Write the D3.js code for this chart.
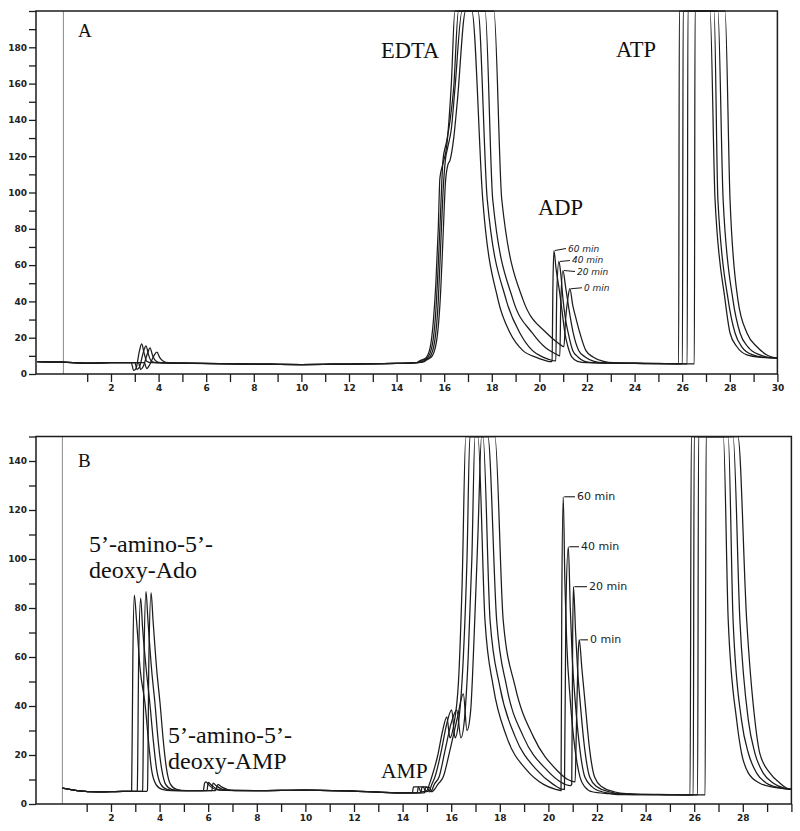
<!DOCTYPE html>
<html><head><meta charset="utf-8">
<script src="https://cdn.jsdelivr.net/npm/d3@7"></script>
<style>body{margin:0;background:#fff} svg{display:block}</style>
</head><body><svg id="c" width="800" height="831"></svg>
<script>
// ---------------- DATA ----------------
const runLabels = ["60 min", "40 min", "20 min", "0 min"];

const xTickMinutes = [1,2,3,4,5,6,7,8,9,10,11,12,13,14,15,16,17,18,19,20,21,22,23,24,25,26,27,28,29,30];
const xTickLabelsA = [2,4,6,8,10,12,14,16,18,20,22,24,26,28,30];
const xTickLabelsB = [2,4,6,8,10,12,14,16,18,20,22,24,26,28];
const yTicksA = [0,10,20,30,40,50,60,70,80,90,100,110,120,130,140,150,160,170,180,190,200];
const yTickLabelsA = [0,20,40,60,80,100,120,140,160,180];
const yTicksB = [0,10,20,30,40,50,60,70,80,90,100,110,120,130,140,150];
const yTickLabelsB = [0,20,40,60,80,100,120,140];

// Panel A: [retention time (min), absorbance units]
const panelA_60 = [[-1.1,6.8],[0,6.5],[1,6.0],[2,6.2],[2.85,6.3],[2.95,2],[3.05,3],[3.2,13],[3.29,16.6],[3.4,11],[3.5,7],[3.7,6.2],
 [5,6],[8,5.5],[10,5.2],[12,5.5],[14,5.8],[14.8,6.2],[15.0,7.5],[15.2,8.5],
 [15.4,14],[15.55,30],[15.65,50],[15.75,80],[15.82,108],[15.95,116],[16.1,125],[16.3,160],[16.45,200],
 [17.16,200],[17.62,96],[18.26,41],[18.77,22.6],[19.3,13],[19.9,9],[20.3,7.2],[20.5,6.8],
 [20.53,7],[20.57,50],[20.61,68],[20.7,58],[20.85,45],[20.95,35],[21.07,22.6],[21.2,15],[21.36,9.4],[21.6,7],[22,6.2],
 [23,6],[24,5.8],[25,5.7],[25.85,5.6],[25.88,200],[27.17,200],[27.38,96],[27.8,41],[28.01,22.6],[28.3,15],[28.72,10.5],[29.3,9.2],[30,8.8]];
const panelA_40 = [[-1.1,6.8],[0,6.5],[1,6.0],[2,6.2],[3.0,6.3],[3.1,2.5],[3.2,4],[3.38,13],[3.47,15.5],[3.58,10.5],[3.7,7],[3.9,6.2],
 [5,6],[8,5.5],[10,5.2],[12,5.5],[14,5.8],[14.9,6.3],[15.1,7.6],[15.3,9],
 [15.5,16],[15.65,35],[15.75,60],[15.85,90],[15.95,118],[16.1,128],[16.25,140],[16.4,158],[16.6,200],
 [17.42,200],[17.81,96],[18.6,41],[19.18,22.6],[19.7,13],[20.2,9],[20.6,7.3],[20.69,7.2],
 [20.73,45],[20.82,62],[20.9,55],[21.0,40],[21.1,30],[21.21,22.6],[21.4,13],[21.62,9.4],[21.9,7],[22.3,6.2],
 [23,6],[24,5.8],[25,5.7],[26.01,5.6],[26.04,200],[27.34,200],[27.5,96],[27.93,41],[28.22,22.6],[28.5,15],[28.97,10.5],[29.5,9.1],[30,8.8]];
const panelA_20 = [[-1.1,6.8],[0,6.5],[1,6.0],[2,6.2],[3.15,6.3],[3.25,2.5],[3.35,4],[3.55,12],[3.64,14.4],[3.75,10],[3.9,7],[4.1,6.2],
 [5,6],[8,5.5],[10,5.2],[12,5.5],[14,5.8],[15.0,6.4],[15.2,7.7],[15.4,9.5],
 [15.6,18],[15.75,40],[15.85,70],[15.95,100],[16.05,118],[16.15,125],[16.3,135],[16.45,157],[16.75,200],
 [17.72,200],[18.04,96],[18.89,41],[19.7,22.6],[20.3,14],[20.7,11],[20.86,10],
 [20.9,40],[20.99,57],[21.1,48],[21.25,35],[21.42,22.6],[21.65,13],[21.92,9.4],[22.3,7],[22.7,6.2],
 [23.5,6],[24.5,5.8],[25.5,5.7],[26.21,5.6],[26.24,200],[27.5,200],[27.72,96],[28.13,41],[28.43,22.6],[28.76,15],[29.27,10.5],[29.7,9],[30,8.8]];
const panelA_0 = [[-1.1,6.8],[0,6.5],[1,6.0],[2,6.2],[3.4,6.3],[3.5,3],[3.6,4.5],[3.8,10],[3.93,12],[4.05,9],[4.2,7],[4.4,6.2],
 [5,6],[8,5.5],[10,5.2],[12,5.5],[14,5.8],[15.1,6.5],[15.3,8],[15.5,10],
 [15.7,20],[15.85,45],[15.95,75],[16.05,105],[16.15,115],[16.25,118],[16.4,130],[16.55,150],[16.9,200],
 [18.09,200],[18.42,96],[19.31,41],[20.3,22.6],[20.8,17],[21.03,15],
 [21.1,30],[21.2,42],[21.28,47],[21.4,38],[21.55,30],[21.7,22.6],[21.95,13],[22.25,9.4],[22.7,7],[23.1,6.2],
 [24,6],[25,5.8],[26.51,5.6],[26.54,200],[27.8,200],[28.01,96],[28.34,41],[28.72,22.6],[29.14,15],[29.56,10.5],[30,8.8]];

// Panel B
const panelB_60 = [[0,6.5],[0.6,5.5],[1.5,5.0],[2.5,5.2],[2.8,5.2],
 [2.85,5.5],[2.9,60],[2.96,85.3],[3.05,75],[3.2,55],[3.4,41],[3.55,25],[3.67,14],[3.85,8],[4.1,6],[4.5,5.5],
 [5,5.5],[5.8,5.5],[5.85,8.5],[5.9,9],[6.05,7.5],[6.3,6],[6.6,5.6],
 [8,5.5],[10,5.7],[12,5.3],[14,4.5],[14.4,4.5],[14.45,7],[14.65,7],[14.75,5],[15.0,5.5],
 [15.1,8],[15.2,11],[15.45,20],[15.65,30],[15.82,35.6],[15.95,27],[16.1,32],[16.3,50],[16.45,90],[16.6,150],
 [17.1,150],[17.39,75],[17.73,48],[18.28,27.5],[19.1,13.9],[19.8,8],[20.3,6],[20.52,5.5],
 [20.55,80],[20.61,125.4],[20.68,90],[20.75,67],[20.9,42.4],[21.1,22],[21.3,11],[21.5,7],[21.8,5],[22.5,4.2],
 [23,3.8],[24,3.9],[25,3.7],[25.83,3.7],[25.88,150],[27.2,150],[27.4,75],[27.75,34],[27.95,20.7],[28.23,12.6],[28.7,8.5],[29.3,6.8],[30,6]];
const panelB_40 = [[0,6.5],[0.6,5.5],[1.5,5.0],[2.5,5.2],[3.05,5.2],
 [3.08,5.5],[3.14,60],[3.22,84],[3.3,72],[3.45,55],[3.6,41],[3.75,25],[3.88,14],[4.05,8],[4.3,6],[4.7,5.5],
 [5.95,5.5],[6.0,8.8],[6.15,7.5],[6.4,6],[6.7,5.6],
 [8,5.5],[10,5.7],[12,5.3],[14,4.5],[14.6,4.5],[14.65,7],[14.85,7],[14.95,5],[15.1,5.5],
 [15.2,8],[15.33,11],[15.6,22],[15.8,32],[16.02,38.4],[16.16,27],[16.3,33],[16.5,60],[16.65,100],[16.77,150],
 [17.31,150],[17.6,75],[18.0,48],[18.63,27.5],[19.52,13.9],[20.2,8],[20.6,6],[20.66,6],
 [20.72,80],[20.82,105],[20.9,80],[20.98,60],[21.1,42.4],[21.3,22],[21.5,11],[21.8,7],[22.2,5],[22.8,4.2],
 [23.5,3.8],[24.5,3.9],[25.96,3.7],[26.0,150],[27.4,150],[27.6,75],[27.95,34],[28.23,20.7],[28.57,12.6],[28.98,8.5],[29.5,6.7],[30,6]];
const panelB_20 = [[0,6.5],[0.6,5.5],[1.5,5.0],[2.5,5.2],[3.27,5.2],
 [3.3,5.5],[3.36,60],[3.44,86.7],[3.52,75],[3.67,55],[3.81,41],[3.95,25],[4.09,14],[4.25,8],[4.5,6],[4.9,5.5],
 [6.15,5.5],[6.2,8.5],[6.35,7.3],[6.6,6],[6.9,5.6],
 [8,5.5],[10,5.7],[12,5.3],[14,4.5],[14.75,4.5],[14.8,7],[15.0,7],[15.1,5],[15.2,5.6],
 [15.3,8],[15.5,11],[15.75,22],[16.0,33],[16.23,38.4],[16.4,27],[16.55,35],[16.7,60],[16.85,100],[16.98,150],
 [17.51,150],[17.87,75],[18.28,48],[18.97,27.5],[19.93,13.9],[20.5,9],[20.9,7.5],
 [20.96,8],[21.0,70],[21.03,88.7],[21.12,70],[21.2,55],[21.3,42.4],[21.5,22],[21.7,11],[22.0,7],[22.5,5],[23,4.2],
 [24,3.8],[25,3.8],[26.14,3.7],[26.18,150],[27.6,150],[27.88,75],[28.23,34],[28.5,20.7],[28.84,12.6],[29.26,8.5],[29.7,6.5],[30,6]];
const panelB_0 = [[0,6.5],[0.6,5.5],[1.5,5.0],[2.5,5.2],[3.47,5.2],
 [3.5,5.5],[3.56,60],[3.65,86.2],[3.73,75],[3.88,55],[4.02,41],[4.16,25],[4.29,14],[4.45,8],[4.7,6],[5.1,5.5],
 [6.3,5.5],[6.4,8],[6.55,7],[6.8,5.9],[7.1,5.5],
 [8,5.5],[10,5.7],[12,5.3],[14,4.5],[14.9,4.5],[14.95,6.8],[15.1,6.8],[15.2,5],[15.3,5.8],
 [15.45,8],[15.67,11],[15.95,22],[16.25,35],[16.5,45],[16.65,30],[16.8,38],[16.95,70],[17.1,110],[17.25,150],
 [17.8,150],[18.14,75],[18.63,48],[19.38,27.5],[20.34,13.9],[20.8,10],[21.1,9],
 [21.15,30],[21.22,60],[21.27,67],[21.38,55],[21.5,42.4],[21.7,22],[21.9,11],[22.2,7],[22.7,5],[23.2,4.2],
 [24.5,3.8],[26.45,3.7],[26.49,150],[27.8,150],[28.16,75],[28.5,34],[28.7,20.7],[29.12,12.6],[29.53,8.5],[29.8,6.5],[30,6]];

// ---------------- DRAWING ----------------
const svg = d3.select("#c");
const INK = "#1c1c1c";

function drawPanel(o) {
  const x = d3.scaleLinear().domain(o.xDomain).range([o.left, o.right]);
  const y = d3.scaleLinear().domain(o.yDomain).range([o.bottom, o.top]);
  const g = svg.append("g");
  const clipId = "clip" + o.id;
  svg.append("clipPath").attr("id", clipId).append("rect")
    .attr("x", o.left).attr("y", o.top - 1).attr("width", o.right - o.left).attr("height", o.bottom - o.top + 1);

  // injection marker line at t = 0
  g.append("line").attr("x1", x(0)).attr("x2", x(0)).attr("y1", o.top).attr("y2", o.bottom)
    .attr("stroke", "#8a8a8a").attr("stroke-width", 1);

  // axes
  const xa = g.append("g").attr("transform", `translate(0,${o.bottom})`)
    .call(d3.axisBottom(x).tickValues(xTickMinutes).tickSize(8).tickPadding(3)
      .tickFormat(d => o.xLabels.includes(d) ? d : ""));
  const ya = g.append("g").attr("transform", `translate(${o.left},0)`)
    .call(d3.axisLeft(y).tickValues(o.yTicks).tickSize(7).tickPadding(2)
      .tickFormat(d => o.yLabels.includes(d) ? d : ""));
  [xa, ya].forEach(a => {
    a.select(".domain").remove();
    a.selectAll(".tick line").attr("stroke", INK).attr("stroke-width", 1.3);
    a.selectAll("text").attr("fill", "#222").style("font-family", "DejaVu Sans, sans-serif")
      .style("font-size", "9px").style("font-weight", "bold");
  });

  // frame
  g.append("path")
    .attr("d", `M${o.left},${o.bottom}V${o.top}H${o.right}V${o.bottom}H${o.left}`)
    .attr("fill", "none").attr("stroke", INK).attr("stroke-width", 1.5);

  // traces
  const line = d3.line().x(d => x(d[0])).y(d => y(d[1])).curve(d3.curveMonotoneX);
  g.append("g").attr("clip-path", `url(#${clipId})`)
    .selectAll("path").data(o.series).join("path")
    .attr("d", line).attr("fill", "none").attr("stroke", INK).attr("stroke-width", 1.25);

  // run labels at ADP peaks
  o.series.forEach((s, i) => {
    const seg = s.filter(d => d[0] > 20.4 && d[0] < 21.6);
    const pk = seg.reduce((a, b) => b[1] > a[1] ? b : a);
    const px = x(pk[0]), py = y(pk[1]);
    const ty = py + o.leaderDy[i];
    g.append("line").attr("x1", px + 1).attr("x2", o.leaderEnd[i]).attr("y1", py).attr("y2", ty)
      .attr("stroke", INK).attr("stroke-width", 1.1);
    g.append("text").attr("x", o.leaderEnd[i] + 2).attr("y", ty + 3).text(runLabels[i])
      .attr("fill", INK).style("font-family", "DejaVu Sans, sans-serif")
      .style("font-size", o.runFont).style("font-style", o.runStyle);
  });

  // compound labels
  o.texts.forEach(t => {
    g.append("text").attr("x", t[1]).attr("y", t[2]).text(t[0])
      .attr("fill", "#111").style("font-family", "Liberation Serif, Times New Roman, serif")
      .style("font-size", t[3] + "px");
  });
  return {x, y};
}

drawPanel({
  id: "A", left: 36, right: 777.4, top: 11, bottom: 374,
  xDomain: [-1.151, 30], yDomain: [0, 200],
  xLabels: xTickLabelsA, yTicks: yTicksA, yLabels: yTickLabelsA,
  series: [panelA_60, panelA_40, panelA_20, panelA_0],
  leaderEnd: [566, 570, 575, 582], leaderDy: [-2, -1, 1, -1], runFont: "9px", runStyle: "italic",
  texts: [["A", 78, 37, 19], ["EDTA", 381, 58, 22.5], ["ADP", 538, 215, 22.5], ["ATP", 616, 57, 22.5]]
});

drawPanel({
  id: "B", left: 36, right: 791.4, top: 436.5, bottom: 804,
  xDomain: [-1.086, 30], yDomain: [0, 150],
  xLabels: xTickLabelsB, yTicks: yTicksB, yLabels: yTickLabelsB,
  series: [panelB_60, panelB_40, panelB_20, panelB_0],
  leaderEnd: [575, 579, 587, 588], leaderDy: [0, 0, 0, 0], runFont: "11px", runStyle: "normal",
  texts: [["B", 78, 467, 19], ["5’-amino-5’-", 89, 552, 24], ["deoxy-Ado", 89, 578, 24],
          ["5’-amino-5’-", 168, 743, 24], ["deoxy-AMP", 168, 769, 24], ["AMP", 381, 778, 21.5]]
});
</script></body></html>
